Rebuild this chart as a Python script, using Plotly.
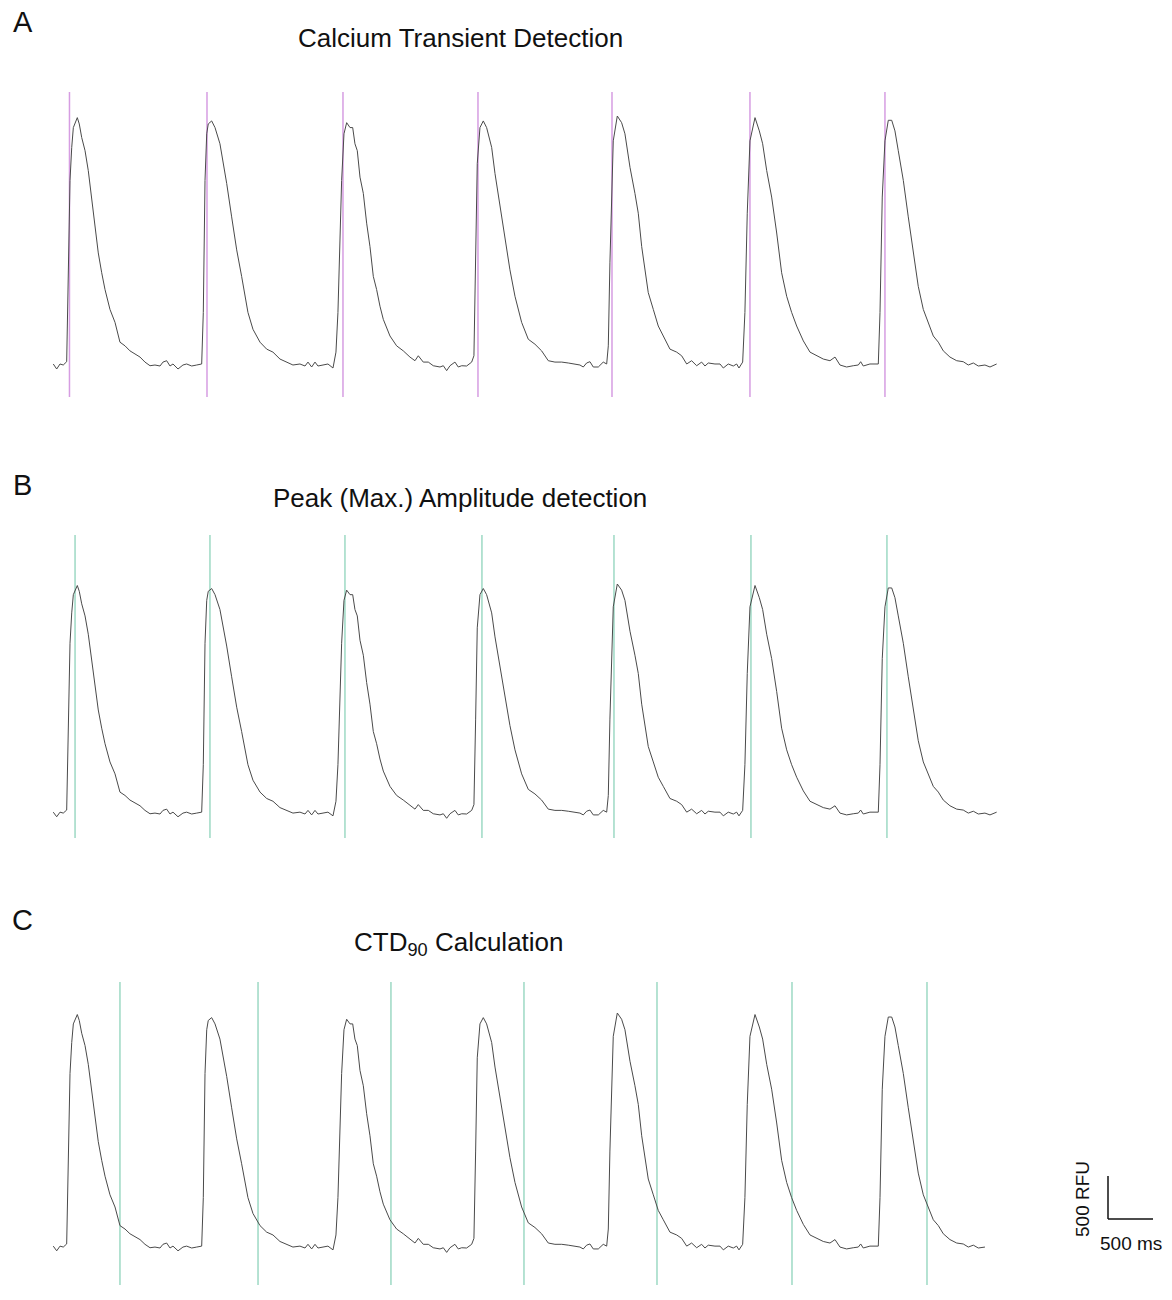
import plotly.graph_objects as go

# ---------------- data (time in ms, fluorescence in RFU) ----------------
time_ms = [
    3, 41, 78, 114, 152, 170, 189, 208, 226, 270, 292, 319, 356, 392, 430, 467, 503, 541, 578, 633,
    689, 744, 800, 855, 911, 967, 1022, 1078, 1133, 1189, 1222, 1263, 1300, 1333, 1389, 1444, 1485,
    1541, 1597, 1652,
    1670, 1689, 1708, 1725, 1763, 1800, 1855, 1889, 1930, 1985, 2041, 2096, 2166, 2222, 2300, 2374,
    2444, 2522, 2596, 2666, 2744, 2800, 2833, 2874, 2911, 2944, 3000, 3055, 3111, 3144,
    3166, 3207, 3233, 3263, 3300, 3330, 3355, 3381, 3411, 3448, 3485, 3522, 3559, 3596, 3633, 3670,
    3744, 3818, 3892, 3966, 4022, 4059, 4114, 4170, 4225, 4300, 4337, 4374, 4411, 4466, 4503, 4541,
    4596, 4652, 4677,
    4696, 4714, 4744, 4781, 4818, 4874, 4911, 4966, 5022, 5077, 5133, 5207, 5281, 5355, 5429, 5503,
    5577, 5652, 5725, 5800, 5855, 5892, 5929, 5966, 6003, 6059, 6114, 6152, 6170,
    6188, 6207, 6225, 6270, 6318, 6355, 6411, 6466, 6503, 6541, 6577, 6614, 6670, 6725, 6781, 6837,
    6855, 6930, 6985, 7041, 7096, 7152, 7207, 7244, 7281, 7355, 7411, 7448, 7503, 7559, 7596, 7622,
    7663,
    7688, 7714, 7744, 7800, 7848, 7885, 7930, 7985, 8041, 8096, 8152, 8207, 8263, 8337, 8411, 8485,
    8559, 8633, 8689, 8744, 8818, 8892, 8948, 8974, 9003, 9077, 9170,
    9189, 9214, 9244, 9281, 9319, 9355, 9392, 9448, 9503, 9559, 9614, 9670, 9726, 9781, 9837, 9892,
    9966, 10041, 10114, 10170, 10226, 10281, 10355, 10411, 10485,
]
signal_rfu = [
    1022, 967, 1022, 1011, 1047, 1946, 3033, 3395, 3612, 3721, 3652, 3503, 3359, 3141, 2851, 2525,
    2239, 2022, 1837, 1620, 1478, 1261, 1221, 1166, 1130, 1098, 1043, 1003, 1011, 1000, 1043, 1058,
    1000, 1022, 967, 1011, 1022, 1000, 1011, 1022,
    1587, 3033, 3544, 3652, 3685, 3612, 3435, 3250, 3000, 2634, 2272, 1982, 1587, 1402, 1261, 1185,
    1152, 1076, 1043, 1011, 1022, 1000, 1043, 989, 1043, 1000, 1011, 1022, 978, 1152,
    1587, 3033, 3544, 3666, 3612, 3612, 3435, 3359, 3069, 2891, 2565, 2308, 1982, 1837, 1655, 1511,
    1329, 1221, 1166, 1098, 1058, 1112, 1043, 1043, 1003, 989, 1003, 949, 1003, 1043, 989, 1003,
    1000, 1043, 1112,
    2130, 3217, 3612, 3685, 3612, 3395, 3109, 2742, 2416, 2054, 1764, 1478, 1293, 1239, 1166, 1058,
    1043, 1043, 1033, 1022, 1011, 989, 1033, 1047, 989, 989, 1043, 1022, 1221,
    2130, 2891, 3467, 3739, 3666, 3544, 3177, 2891, 2674, 2308, 2054, 1804, 1620, 1438, 1329, 1207,
    1185, 1152, 1112, 1022, 1058, 1003, 1043, 1000, 1033, 1022, 1022, 978, 1022, 1000, 1022, 978,
    1043,
    1587, 2674, 3467, 3721, 3576, 3435, 3141, 2851, 2457, 2022, 1764, 1587, 1438, 1275, 1152, 1112,
    1076, 1058, 1098, 1011, 989, 1003, 1011, 1047, 1000, 1022, 1022,
    1587, 2851, 3467, 3692, 3692, 3576, 3359, 3033, 2634, 2239, 1873, 1620, 1478, 1329, 1261, 1166,
    1098, 1058, 1047, 1011, 1033, 1000, 1011, 989, 1022,
]

# detected events (ms)
onset_times = [183, 1711, 3222, 4722, 6211, 7744, 9244]          # panel A
peak_times = [245, 1744, 3244, 4766, 6233, 7755, 9266]           # panel B
ctd90_times = [744, 2278, 3755, 5233, 6711, 8211, 9711]          # panel C
c_trace_end_ms = 10370

titles = ["Calcium Transient Detection", "Peak (Max.) Amplitude detection",
          "CTD<sub>90</sub> Calculation"]
panel_letters = ["A", "B", "C"]
scale_ms = 500
scale_rfu = 500
scale_label_x = "500 ms"
scale_label_y = "500 RFU"

# ---------------- layout calibration ----------------
W, H = 1172, 1300
px_per_ms = 45 / 500.0
x_zero_px = 53
x_range = [-x_zero_px / px_per_ms, (W - x_zero_px) / px_per_ms]

# (top px, bottom px, baseline px, peak px) per panel
panels = [
    (92, 397, 366, 116),
    (535, 838, 814, 584),
    (982, 1285, 1248, 1013),
]
base_v, peak_v = 1000, 3739

fig = go.Figure()
font = "Liberation Sans, Arial, sans-serif"

line_colors = ["#d69de2", "#9dd9c4", "#9dd9c4"]
marker_sets = [onset_times, peak_times, ctd90_times]

for i, (top, bot, basepx, peakpx) in enumerate(panels):
    n = "" if i == 0 else str(i + 1)
    s = (peak_v - base_v) / (basepx - peakpx)  # RFU per px
    y_lo = base_v - (bot - basepx) * s
    y_hi = base_v + (basepx - top) * s
    fig.update_layout(**{
        f"xaxis{n}": dict(domain=[0, 1], range=x_range, visible=False, fixedrange=True,
                          anchor=f"y{n}"),
        f"yaxis{n}": dict(domain=[1 - bot / H, 1 - top / H], range=[y_lo, y_hi],
                          visible=False, fixedrange=True, anchor=f"x{n}"),
    })
    if i == 2:
        tx = [t for t in time_ms if t <= c_trace_end_ms]
        ty = signal_rfu[:len(tx)]
    else:
        tx, ty = time_ms, signal_rfu
    for t in marker_sets[i]:
        fig.add_shape(type="line", xref=f"x{n}", yref=f"y{n} domain",
                      x0=t, x1=t, y0=0, y1=1,
                      line=dict(color=line_colors[i], width=1.5), layer="below")
    fig.add_trace(go.Scatter(x=tx, y=ty, mode="lines", xaxis=f"x{n}", yaxis=f"y{n}",
                             line=dict(color="#4a4a4a", width=1), hoverinfo="skip",
                             showlegend=False))

# titles and panel letters
title_pos = [(460, 38), (460, 498), (459, 943)]
letter_pos = [(23, 22), (22, 485), (22, 920)]
for i in range(3):
    fig.add_annotation(text=titles[i], xref="paper", yref="paper",
                       x=title_pos[i][0] / W, y=1 - title_pos[i][1] / H,
                       showarrow=False, font=dict(family=font, size=26, color="#111"),
                       xanchor="center", yanchor="middle")
    fig.add_annotation(text=panel_letters[i], xref="paper", yref="paper",
                       x=letter_pos[i][0] / W, y=1 - letter_pos[i][1] / H,
                       showarrow=False, font=dict(family=font, size=29, color="#111"),
                       xanchor="center", yanchor="middle")

# scale bar in panel C data coordinates
sb_t0 = (1108 - x_zero_px) / px_per_ms
top, bot, basepx, peakpx = panels[2]
sC = (peak_v - base_v) / (basepx - peakpx)
sb_v0 = base_v + (basepx - 1219) * sC
fig.add_shape(type="line", xref="x3", yref="y3", x0=sb_t0, x1=sb_t0,
              y0=sb_v0, y1=sb_v0 + scale_rfu, line=dict(color="#111", width=1.5))
fig.add_shape(type="line", xref="x3", yref="y3", x0=sb_t0, x1=sb_t0 + scale_ms,
              y0=sb_v0, y1=sb_v0, line=dict(color="#111", width=1.5))
fig.add_annotation(text=scale_label_x, xref="x3", yref="paper",
                   x=sb_t0 + scale_ms / 2, y=1 - 1243 / H, showarrow=False,
                   font=dict(family=font, size=19, color="#111"),
                   xanchor="center", yanchor="middle")
fig.add_annotation(text=scale_label_y, xref="paper", yref="paper",
                   x=1082 / W, y=1 - 1199 / H, showarrow=False, textangle=-90,
                   font=dict(family=font, size=19, color="#111"),
                   xanchor="center", yanchor="middle")

fig.update_layout(width=W, height=H, margin=dict(l=0, r=0, t=0, b=0),
                  paper_bgcolor="white", plot_bgcolor="white", showlegend=False)

fig.write_html("out.html", config={"displayModeBar": False},
               post_script="document.body.style.margin='0';")
